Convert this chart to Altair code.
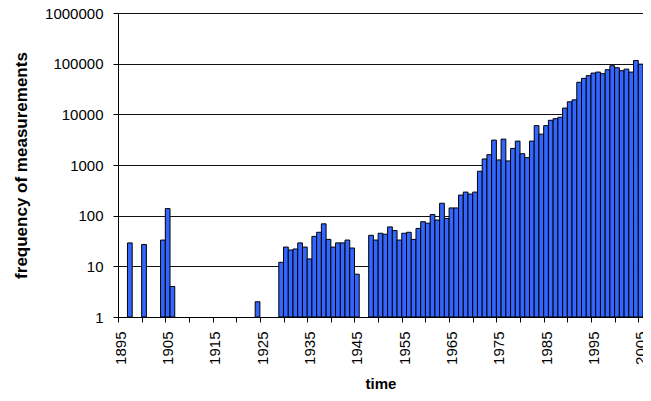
import altair as alt
import pandas as pd

years = [1897, 1900, 1904, 1905, 1906, 1924,
         1929, 1930, 1931, 1932, 1933, 1934, 1935, 1936, 1937, 1938, 1939,
         1940, 1941, 1942, 1943, 1944, 1945, 1948, 1949,
         1950, 1951, 1952, 1953, 1954, 1955, 1956, 1957, 1958, 1959,
         1960, 1961, 1962, 1963, 1964, 1965, 1966, 1967, 1968, 1969,
         1970, 1971, 1972, 1973, 1974, 1975, 1976, 1977, 1978, 1979,
         1980, 1981, 1982, 1983, 1984, 1985, 1986, 1987, 1988, 1989,
         1990, 1991, 1992, 1993, 1994, 1995, 1996, 1997, 1998, 1999,
         2000, 2001, 2002, 2003, 2004, 2005]
counts = [29, 27, 33, 138, 4, 2,
          12, 24, 21, 22, 29, 24, 14, 39, 47, 69, 34,
          24, 29, 29, 33, 23, 7, 41, 33,
          45, 43, 60, 51, 33, 45, 47, 34, 56, 76,
          71, 105, 82, 176, 88, 142, 142, 255, 292, 267,
          292, 753, 1316, 1599, 3100, 1259, 3243, 1203, 2123, 2963,
          1671, 1396, 2963, 5984, 4061, 5984, 7630, 8200, 8736, 13280,
          17650, 19300, 42900, 51300, 58000, 65200, 68200, 63400, 76000, 91000,
          83100, 72600, 78000, 68200, 115600, 97800]

x_tick_years = list(range(1895, 2006, 5))
y_ticks = [1, 10, 100, 1000, 10000, 100000, 1000000]

df = pd.DataFrame({"year": years, "count": counts})

FONT = "Liberation Sans"

chart = alt.Chart(df).transform_calculate(
    year_end="datum.year + 1"
).mark_bar(
    fill="#3366FF", stroke="#000000", strokeWidth=1, opacity=1
).encode(
    x=alt.X(
        "year:Q",
        scale=alt.Scale(domain=[1895, 2006], nice=False, zero=False),
        axis=alt.Axis(
            values=x_tick_years,
            labelExpr="(datum.value - 1895) % 10 == 0 ? toString(datum.value) : ''",
            labelAngle=-90, labelOffset=2.4, labelOverlap=False, labelFlush=False,
            labelBound=False,
            tickSize=5, tickColor="#000000", domainColor="#000000", grid=False,
            labelFont=FONT, labelFontSize=15, labelColor="#000000", labelPadding=9,
            title="time", titleFont=FONT, titleFontSize=15, titleFontWeight="bold",
            titleColor="#000000", titlePadding=12,
        ),
    ),
    x2="year_end:Q",
    y=alt.Y(
        "count:Q",
        scale=alt.Scale(type="log", domain=[1, 1000000], nice=False),
        axis=alt.Axis(
            values=y_ticks, format="d",
            tickSize=5, tickColor="#000000", domainColor="#000000",
            grid=True, gridColor="#111111", gridWidth=1,
            labelFont=FONT, labelFontSize=15, labelColor="#000000", labelPadding=10,
            labelFlush=False,
            title="frequency of measurements", titleFont=FONT, titleFontSize=17,
            titleFontWeight="bold", titleColor="#000000", titlePadding=14,
        ),
    ),
    y2=alt.datum(1),
).properties(
    width=525,
    height=304,
    padding={"left": 110, "top": 5, "right": 0, "bottom": 76},
    autosize=alt.AutoSizeParams(type="none"),
    background="#ffffff",
).configure_view(stroke=None)

chart.save("out.html", embed_options={"renderer": "svg", "actions": False})
